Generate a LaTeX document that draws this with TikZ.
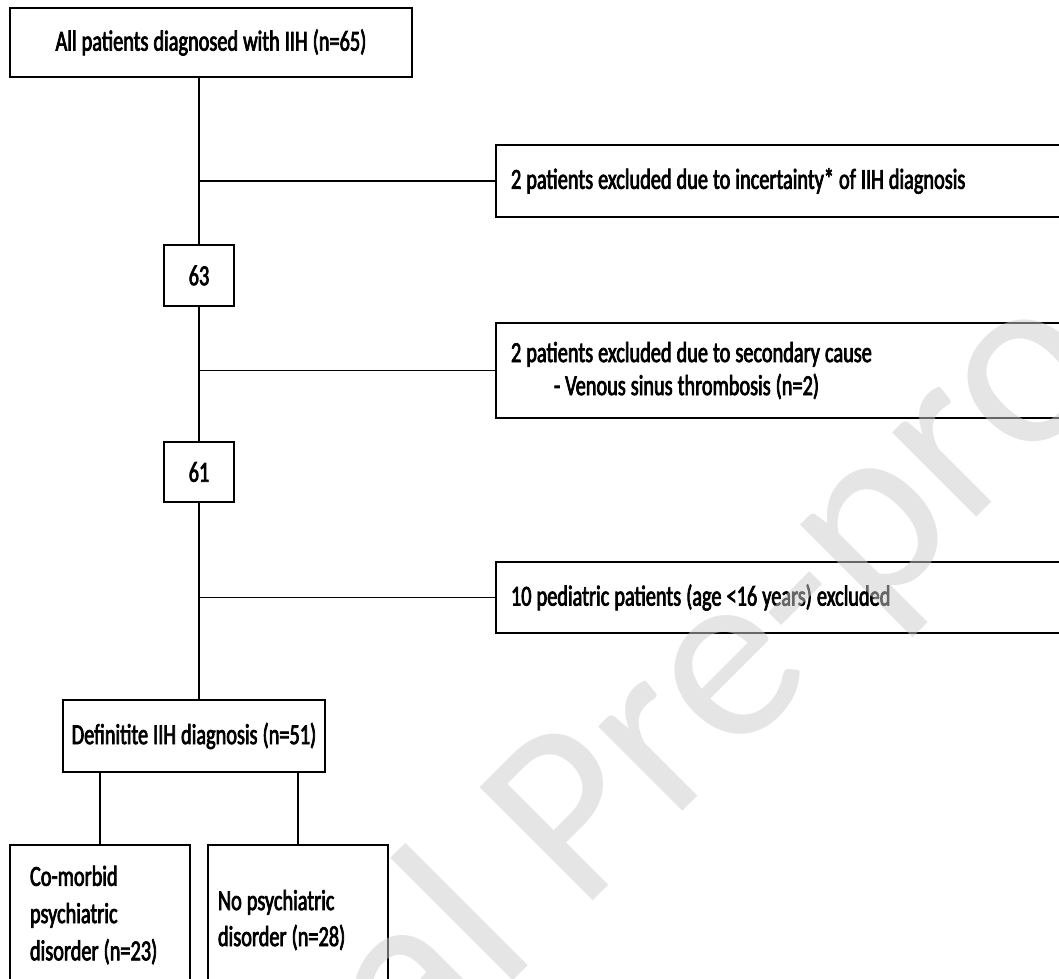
\documentclass[tikz,border=0pt]{standalone}
\usepackage{fontspec}
\setmainfont{Carlito}[FakeStretch=0.7,FakeBold=2.5,WordSpace=1.1]
\newfontfamily\wmfont{Carlito}
\definecolor{wmgray}{gray}{0.8}
\begin{document}
\begin{tikzpicture}[x=0.02cm,y=-0.02cm,
  box/.style={draw,line width=1.1pt,inner sep=0pt,font=\fontsize{16.5pt}{20pt}\selectfont,
    execute at begin node={\spaceskip=0pt\xspaceskip=0pt}},
  rbox/.style={box,anchor=west,minimum width=600*0.02cm,text width=570*0.02cm,inner xsep=15*0.02cm,align=left},
  conn/.style={line width=0.8pt},
  wm/.style={text=wmgray,opacity=0.5,font=\wmfont\fontsize{142pt}{142pt}\selectfont,rotate=45,inner sep=0pt}]
\useasboundingbox (0,0) rectangle (1059,979);
\clip (0,0) rectangle (1059,979);
% boxes
\node[box,minimum width=402*0.02cm,minimum height=69*0.02cm] (all) at (211,42.5) {All patients diagnosed with IIH (n=65)};
\node[box,minimum width=70*0.02cm,minimum height=61*0.02cm] (n63) at (199,275.5) {63};
\node[box,minimum width=70*0.02cm,minimum height=60*0.02cm] (n61) at (199,472) {61};
\node[rbox,minimum height=72*0.02cm] (ex1) at (495,181) {2 patients excluded due to incertainty* of IIH diagnosis};
\node[rbox,minimum height=95*0.02cm,font=\fontsize{16.5pt}{18.8pt}\selectfont] (ex2) at (495,370.5) {2 patients excluded due to secondary cause\\\hspace*{0.86cm}- Venous sinus thrombosis (n=2)};
\node[rbox,minimum height=71*0.02cm] (ex3) at (495,597.5) {10 pediatric patients (age <16 years) excluded};
\node[box,minimum width=262*0.02cm,minimum height=72*0.02cm] (def) at (194,736) {Definitite IIH diagnosis (n=51)};
\node[box,minimum height=140*0.02cm,text width=140*0.02cm,inner xsep=20*0.02cm,align=left,font=\fontsize{16.5pt}{21.2pt}\selectfont] (co) at (100,915) {Co-morbid\\psychiatric\\disorder (n=23)};
\node[box,minimum height=150*0.02cm,text width=160*0.02cm,inner xsep=10*0.02cm,align=left,font=\fontsize{16.5pt}{20.5pt}\selectfont] (no) at (298,920) {No psychiatric\\disorder (n=28)};
% connectors
\draw[conn] (all.south -| n63.north) -- (n63.north);
\draw[conn] (n63.south) -- (n61.north);
\draw[conn] (n61.south) -- (n61.south |- def.north);
\draw[conn] (ex1.west) -- (ex1.west -| n63.south);
\draw[conn] (ex2.west) -- (ex2.west -| n63.south);
\draw[conn] (ex3.west) -- (ex3.west -| n61.south);
\draw[conn] (co.north) -- (co.north |- def.south);
\draw[conn] (no.north) -- (no.north |- def.south);
% watermark
\node[wm] (wmark) at (595,805) {Journal Pre-proof};
\end{tikzpicture}
\end{document}
